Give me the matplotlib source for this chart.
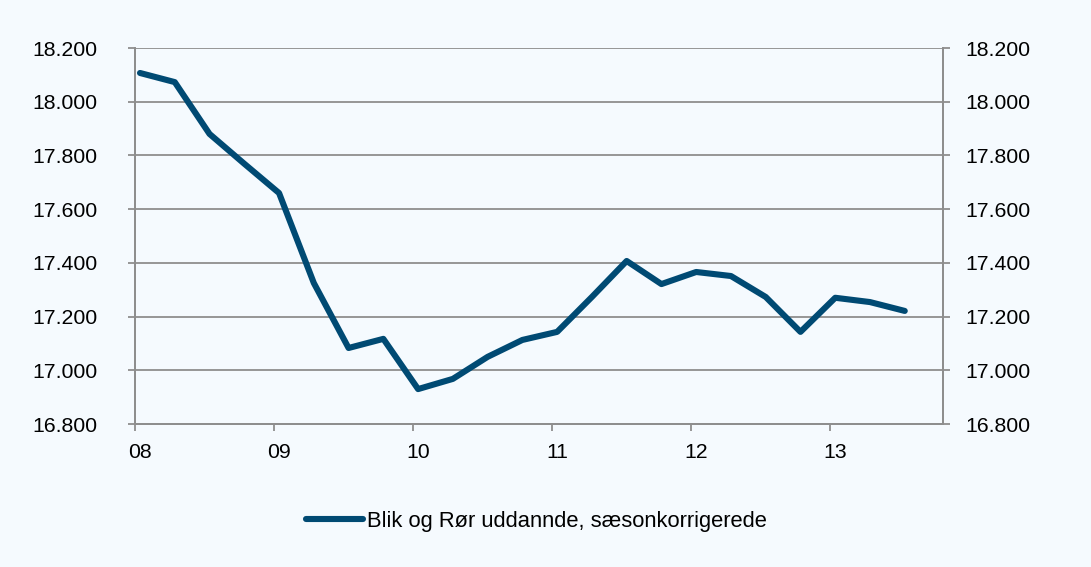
import matplotlib.pyplot as plt
import numpy as np

# quarterly values, 2008Q1 .. 2013Q3 (thousands)
values = [18.107, 18.073, 17.880, 17.769, 17.660, 17.325, 17.083, 17.117,
          16.930, 16.968, 17.050, 17.113, 17.143, 17.273, 17.407, 17.321,
          17.366, 17.351, 17.273, 17.143, 17.270, 17.254, 17.221]
year_labels = ["08", "09", "10", "11", "12", "13"]
y_ticks = [16.8, 17.0, 17.2, 17.4, 17.6, 17.8, 18.0, 18.2]
series_name = "Blik og Rør uddannde, sæsonkorrigerede"

bg = "#F5FAFE"
grid_col = "#8E8E8E"
line_col = "#004A73"

plt.rcParams["font.family"] = ["Liberation Sans", "DejaVu Sans"]
plt.rcParams["font.size"] = 15.3

fig = plt.figure(figsize=(10.91, 5.67), dpi=100, facecolor=bg)
W, H = 1091, 567
ax = fig.add_axes([135 / W, 1 - 424 / H, (943 - 135) / W, (424 - 48) / H])
ax.set_facecolor(bg)

x = np.arange(len(values))
line, = ax.plot(x, values, color=line_col, lw=4.4, solid_capstyle="round",
                solid_joinstyle="round", label=series_name)

off = 0.144
ax.set_xlim(-off, 23.1)
ax.set_ylim(16.8, 18.2)

# tick marks at year boundaries, labels at first quarter of each year
ax.set_xticks([4 * k - off for k in range(6)], minor=True)
ax.set_xticks([4 * k for k in range(6)], year_labels)
ax.tick_params(axis="x", which="minor", length=5, width=1.3, color=grid_col)
ax.tick_params(axis="x", which="major", length=0, pad=14)

ax.set_yticks(y_ticks, [f"{v:.3f}" for v in y_ticks])
ax.tick_params(axis="y", length=5, width=1.3, color=grid_col, pad=22)
ax.grid(axis="y", color=grid_col, lw=1.3)
ax.set_axisbelow(True)

ax2 = ax.twinx()
ax2.set_ylim(ax.get_ylim())
ax2.set_yticks(y_ticks, [f"{v:.3f}" for v in y_ticks])
ax2.tick_params(axis="y", length=5, width=1.3, color=grid_col, pad=11)

for a in (ax, ax2):
    a.spines["top"].set_visible(False)
    for side in ("left", "right", "bottom"):
        a.spines[side].set_color(grid_col)
        a.spines[side].set_linewidth(1.3)

fig.legend(handles=[line], loc="center", bbox_to_anchor=(536 / W, 1 - 521 / H),
           frameon=False, handlelength=2.6, handletextpad=0.18, fontsize=15.8)

fig.savefig("out.png", dpi=100, facecolor=bg)
